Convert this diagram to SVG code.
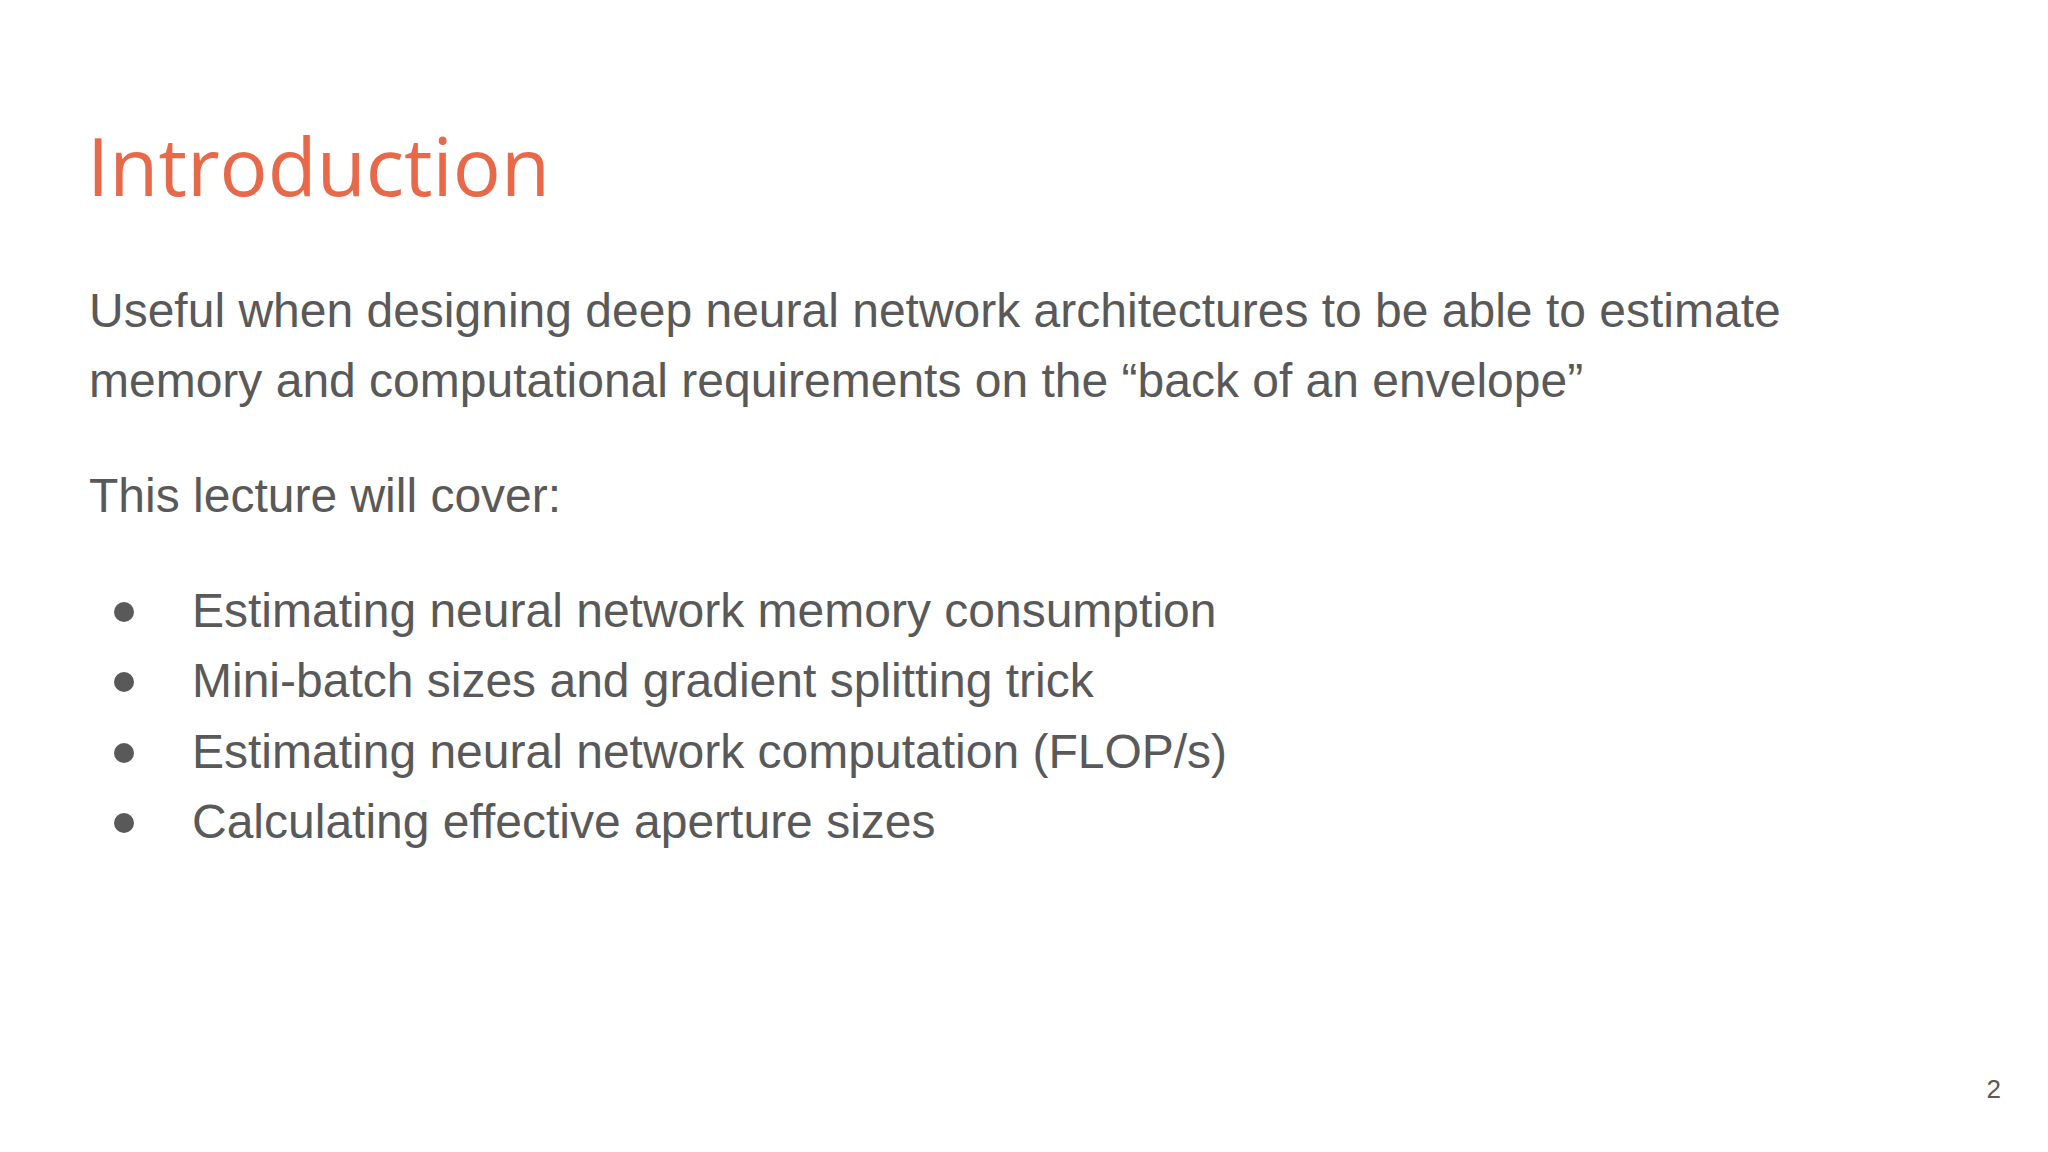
<svg xmlns="http://www.w3.org/2000/svg" width="2048" height="1152" viewBox="0 0 2048 1152">
<style>
.t{font-family:"Liberation Sans",Arial,sans-serif;font-size:48px;fill:#595959}
.h{font-family:"Open Sans","Noto Sans",sans-serif;font-size:80px;fill:#e8694a}
</style>
<rect width="2048" height="1152" fill="#ffffff"/>
<g id="title"><text class="h" x="87" y="196">Introduction</text></g>
<g id="body">
<text class="t" x="89" y="327">Useful when designing deep neural network architectures to be able to estimate</text>
<text class="t" x="89" y="397">memory and computational requirements on the “back of an envelope”</text>
<text class="t" x="89" y="512">This lecture will cover:</text>
</g>
<g id="bullets">
<circle cx="124" cy="612" r="10" fill="#595959"/>
<circle cx="124" cy="682" r="10" fill="#595959"/>
<circle cx="124" cy="753" r="10" fill="#595959"/>
<circle cx="124" cy="823" r="10" fill="#595959"/>
<text class="t" x="192" y="627">Estimating neural network memory consumption</text>
<text class="t" x="192" y="697">Mini-batch sizes and gradient splitting trick</text>
<text class="t" x="192" y="768">Estimating neural network computation (FLOP/s)</text>
<text class="t" x="192" y="838">Calculating effective aperture sizes</text>
</g>
<g id="page"><text x="2001" y="1098" font-family="Liberation Sans,Arial,sans-serif" font-size="26" fill="#595959" text-anchor="end">2</text></g>
</svg>
